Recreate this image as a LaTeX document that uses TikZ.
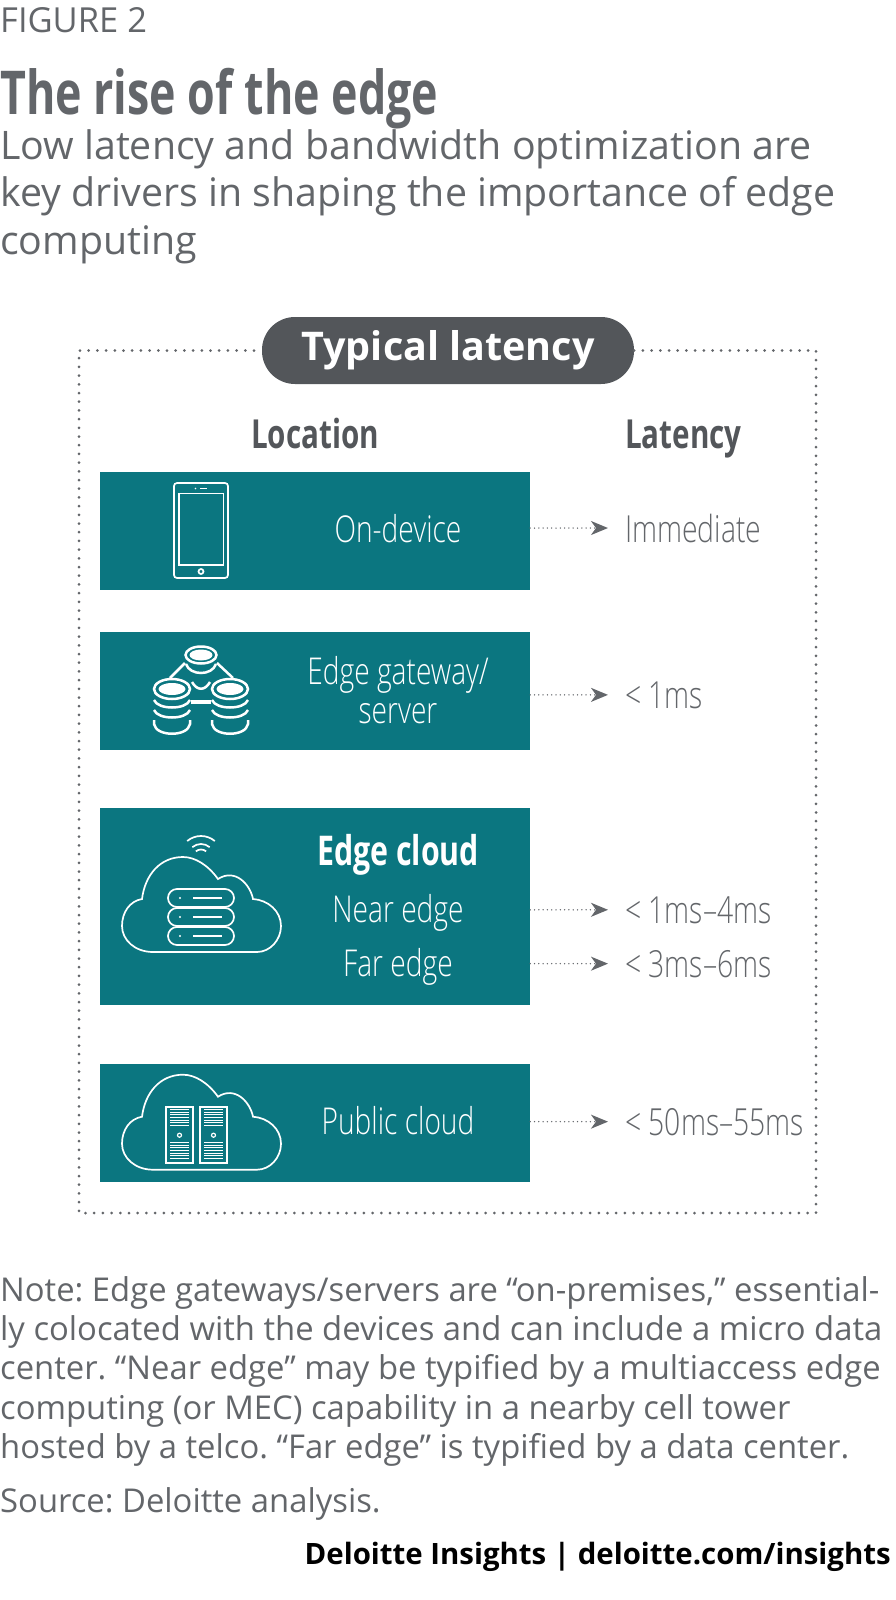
\documentclass[tikz,border=0pt]{standalone}
\usepackage{fontspec}
\setmainfont{Open Sans}
\newfontfamily\condfont[FakeStretch=0.74]{Open Sans}
\newfontfamily\condlight[FakeStretch=0.76]{Open Sans Light}
\usetikzlibrary{positioning,arrows.meta}
\definecolor{tealbox}{HTML}{0B7680}
\definecolor{pillgray}{HTML}{53565A}
\definecolor{textgray}{HTML}{63666A}
\tikzset{
  rowbox/.style={fill=tealbox, minimum width=430pt, inner sep=0pt},
  rowtext/.style={text=white, font=\condlight\fontsize{37}{39}\selectfont, align=center, inner sep=0pt},
  latencytext/.style={text=textgray, font=\condlight\fontsize{37.3}{39}\selectfont, anchor=base west, inner sep=0pt},
  headtext/.style={text=pillgray, font=\condfont\bfseries\fontsize{40}{40}\selectfont, inner sep=0pt, anchor=base},
  dotarrow/.style={textgray, line width=1.5pt, dash pattern=on 0pt off 4.3pt, line cap=round,
    -{Stealth[length=17pt,width=14pt,inset=5pt,sep=0pt]}, shorten >=17pt},
  icon/.style={white, line width=1.7pt},
}
% cloud outline, local coordinates
\newcommand{\cloudshape}{%
  (63,152) -- (167,152) .. controls (180,152) and (191,140) .. (191,126)
  .. controls (191,111) and (178,100) .. (163,99)
  .. controls (160,84) and (145,68) .. (128,79)
  .. controls (118,65) and (105,57) .. (93,57)
  .. controls (70,57) and (55,75) .. (52,99)
  .. controls (40,101) and (32,112) .. (32,126)
  .. controls (32,140) and (45,152) .. (63,152) -- cycle}
% database stack: x, y, outer radii
\newcommand{\dbstack}[2]{%
  \draw[icon, line width=2.5pt] (#1,#2) ellipse[x radius=18pt, y radius=10pt];
  \fill[white] (#1,#2) ellipse[x radius=13.5pt, y radius=6pt];
  \draw[icon, line width=2.5pt] (#1-18,#2+11) .. controls (#1-14,#2+21) and (#1+14,#2+21) .. (#1+18,#2+11);
  \draw[icon, line width=2.5pt] (#1-18,#2+21) .. controls (#1-14,#2+31) and (#1+14,#2+31) .. (#1+18,#2+21);
  \draw[icon, line width=2.5pt] (#1-18,#2+31) -- (#1-18,#2+35) .. controls (#1-16,#2+48) and (#1+16,#2+48) .. (#1+18,#2+35) -- (#1+18,#2+31);
}
\begin{document}
\begin{tikzpicture}[x=1pt,y=-1pt]
  \useasboundingbox (0,0) rectangle (896,1600);

  % heading
  \node (figlabel) [anchor=base west, inner sep=0pt, text=textgray, font=\fontsize{34.5}{36}\selectfont] at (0,33) {FIGURE 2};
  \node (title) [anchor=base west, inner sep=0pt, text=textgray, font=\condfont\bfseries\fontsize{60.5}{64}\selectfont] at (0,114) {The rise of the edge};
  \node (subtitle) [anchor=north west, inner sep=0pt, text=textgray, align=left, font=\fontsize{39.3}{47.5}\selectfont] at (0,129)
    {Low latency and bandwidth optimization are\\key drivers in shaping the importance of edge\\computing};

  % rows
  \node (ondevice) [rowbox, minimum height=118pt] at (315,531) {};
  \node (gateway) [rowbox, minimum height=118pt, below=42pt of ondevice] {};
  \node (edgecloud) [rowbox, minimum height=197pt, below=57.5pt of gateway] {};
  \node (public) [rowbox, minimum height=118pt, below=58pt of edgecloud] {};

  % frame and pill
  \node (pill) [fill=pillgray, rounded corners=33pt, minimum width=372pt, minimum height=67pt, inner sep=0pt,
    text=white, font=\bfseries\fontsize{39.5}{40}\selectfont] at (448,350.5) {Typical latency};
  \draw[textgray, line width=3pt, dash pattern=on 0pt off 8.7pt, line cap=round]
    (pill.east) -- (816,350.5) -- (816,1213) -- (79,1213) -- (79,350.5) -- (pill.west);

  \node (lochead) [headtext] at (315,448) {Location};
  \node (lathead) [headtext, anchor=base west] at (625,448) {Latency};

  % row labels
  \node (ondevtext) [rowtext] at (398,529) {On-device};
  \node (gatetext) [rowtext] at (398,690) {Edge gateway/\\server};
  \node (cloudhead) [rowtext, font=\condfont\bfseries\fontsize{41}{42}\selectfont] at (398,855) {Edge cloud};
  \node (neartext) [rowtext] at (398,913) {Near edge};
  \node (fartext) [rowtext] at (398,967) {Far edge};
  \node (pubtext) [rowtext] at (398,1121) {Public cloud};

  % latency values
  \node (immediate) [latencytext] at (625,542) {Immediate};
  \node (onems) [latencytext] at (625,708) {< 1ms};
  \node (nearlat) [latencytext] at (625,923) {< 1ms–4ms};
  \node (farlat) [latencytext] at (625,977) {< 3ms–6ms};
  \node (publat) [latencytext] at (625,1135) {< 50ms–55ms};

  \draw[dotarrow] (ondevice.east |- immediate.west) -- (immediate.west);
  \draw[dotarrow] (gateway.east |- onems.west) -- (onems.west);
  \draw[dotarrow] (edgecloud.east |- nearlat.west) -- (nearlat.west);
  \draw[dotarrow] (edgecloud.east |- farlat.west) -- (farlat.west);
  \draw[dotarrow] (public.east |- publat.west) -- (publat.west);

  % phone
  \draw[icon, rounded corners=3pt] (174,483) rectangle (228,578);
  \draw[icon] (179,493.5) rectangle (223.5,565);
  \draw[icon] (201,571.5) circle (2.5pt);
  \draw[icon] (200,488.5) -- (207,488.5);
  \fill[white] (195.5,488.5) circle (0.8pt);

  % database icon
  \draw[icon, line width=2.5pt] (185,663) -- (170,678);
  \draw[icon, line width=2.5pt] (217,663) -- (233,678);
  \draw[icon, line width=2.5pt] (186,664) .. controls (190,676) and (212,676) .. (216,664);
  \draw[icon, line width=2.5pt] (192,682) .. controls (197,691) and (205,691) .. (210,682);
  \draw[icon, line width=2.5pt] (201,655) ellipse[x radius=15.5pt, y radius=8.5pt];
  \fill[white] (201,655) ellipse[x radius=11.5pt, y radius=5.5pt];
  \dbstack{172}{689}
  \dbstack{230}{689}
  \draw[icon, line width=4.5pt] (191,702) -- (211,702);

  % edge cloud icon
  \begin{scope}[shift={(90,800)}]
    \draw[icon] \cloudshape;
    \foreach \ang/\rad in {0/21.5, 1/13.5, 2/8} {
      \draw[icon] (111,57.5) ++(130:\rad pt) arc[start angle=130, end angle=50, radius=\rad pt];
    }
    \foreach \ytop in {89,108,127} {
      \draw[icon, rounded corners=9pt] (78,\ytop) rectangle (144,\ytop+18);
      \fill[white] (90,\ytop+9) circle (1.1pt);
      \draw[icon] (103,\ytop+9) -- (132,\ytop+9);
    }
  \end{scope}

  % public cloud icon
  \begin{scope}[shift={(90,1017.7)}]
    \draw[icon] \cloudshape;
    \foreach \xleft in {76,110} {
      \draw[icon] (\xleft,89.5) rectangle (\xleft+27,145);
      \foreach \yline in {92,94.6,...,108} {
        \draw[white, line width=1.1pt] (\xleft+4,\yline) -- (\xleft+23,\yline);
      }
      \foreach \yline in {125,127.6,...,143} {
        \draw[white, line width=1.1pt] (\xleft+4,\yline) -- (\xleft+23,\yline);
      }
      \draw[icon, line width=1.2pt] (\xleft+13.5,117.5) circle (2pt);
    }
  \end{scope}

  % notes
  \node (note) [anchor=north west, inner sep=0pt, text=textgray, align=left, font=\fontsize{32.8}{39.3}\selectfont\frenchspacing] at (0,1276)
    {Note: Edge gateways/servers are “on-premises,” essential-\\ly colocated with the devices and can include a micro data\\center. “Near edge” may be typified by a multiaccess edge\\computing (or MEC) capability in a nearby cell tower\\hosted by a telco. “Far edge” is typified by a data center.};
  \node (source) [anchor=base west, inner sep=0pt, text=textgray, font=\fontsize{32.8}{36}\selectfont\frenchspacing] at (0,1512) {Source: Deloitte analysis.};
  \node (credit) [anchor=base east, inner sep=0pt, text=black, font=\bfseries\fontsize{29.4}{32}\selectfont] at (891,1564) {Deloitte Insights | deloitte.com/insights};
\end{tikzpicture}
\end{document}
